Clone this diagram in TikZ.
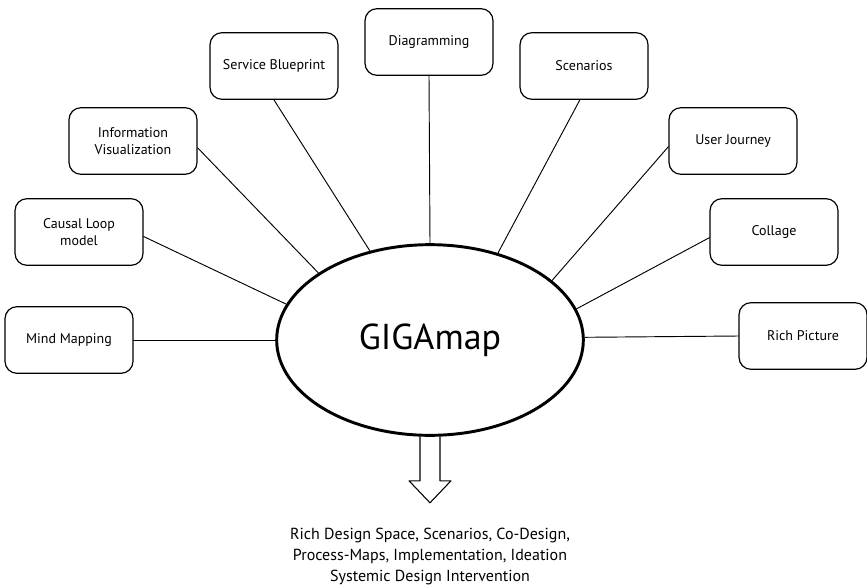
\documentclass[tikz,border=0pt]{standalone}
\usepackage{fontspec}
\setmainfont{PT Sans}
\usetikzlibrary{shapes.geometric}
\begin{document}
\begin{tikzpicture}[x=0.75pt,y=-0.75pt, line join=round, line cap=round,
	box/.style={draw, line width=0.9pt, rounded corners=9pt, minimum width=96pt, minimum height=50pt, align=center, inner sep=2pt, font=\fontsize{10.5}{13}\selectfont},
	link/.style={line width=0.7pt}]
			\useasboundingbox (0,0) rectangle (867,586);
			\node[draw, ellipse, line width=2.2pt, minimum width=230pt, minimum height=143pt, font=\fontsize{27}{30}\selectfont] (gm) at (430,340) {GIGAmap};
			\node[box] (mind) at (69,340) {Mind Mapping};
			\node[box] (causal) at (79,232) {Causal Loop\\model};
			\node[box] (info) at (133,141) {Information\\Visualization};
			\node[box] (service) at (274,66) {Service Blueprint};
			\node[box] (diag) at (429,42) {Diagramming};
			\node[box] (scen) at (584,66) {Scenarios};
			\node[box] (journey) at (733,141) {User Journey};
			\node[box] (collage) at (774,232) {Collage};
			\node[box] (rich) at (803,336) {Rich Picture};
			\foreach \b/\s/\e in {mind/east/west, causal/-4/166, info/-6/149, service/south/124, diag/south/north, scen/-97/52, journey/185/26, collage/185/12, rich/west/1}
			\draw[link] (\b.\s)--(gm.\e);
			\draw[line width=0.8pt] (gm.south) ++(-10,0) -- ++(0,44) -- ++(-11,0) -- ++(21,22) -- ++(21,-22) -- ++(-11,0) -- ++(0,-44);
			\node[align=center, font=\fontsize{12}{15.75}\selectfont] (out) at (430,556) {Rich Design Space, Scenarios, Co-Design,\\Process-Maps, Implementation, Ideation\\Systemic Design Intervention};
		\end{tikzpicture}
\end{document}
